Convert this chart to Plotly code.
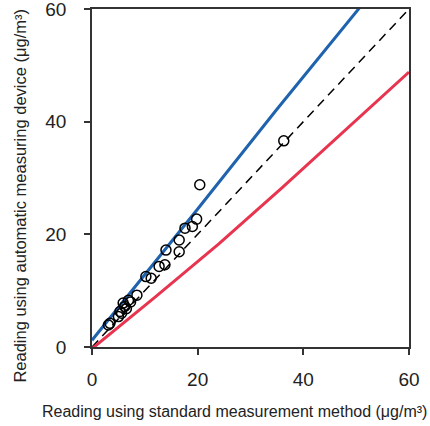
import plotly.graph_objects as go

# measured points (standard method vs automatic device), µg/m³
std_x = [3.1, 3.4, 5.0, 5.3, 5.9, 6.2, 6.9, 5.6, 6.5, 7.3, 8.5, 10.2, 11.2,
         12.7, 13.8, 14.0, 16.5, 16.5, 17.6, 19.0, 19.8, 20.4, 36.3]
auto_y = [3.9, 4.2, 5.4, 6.3, 7.8, 7.2, 8.3, 6.0, 6.8, 8.0, 9.2, 12.5, 12.2,
          14.3, 14.6, 17.2, 19.0, 16.9, 21.1, 21.4, 22.7, 28.8, 36.6]

# upper limit line (blue)
upper_x = [0, 10, 20, 35, 50.5, 60]
upper_y = [1.2, 12.8, 24.5, 42.2, 60, 71]

# lower limit line (red)
lower_x = [0, 12, 24, 36, 60]
lower_y = [-0.3, 8.9, 18.3, 28.3, 48.8]

# 1:1 line
ref_x = [0, 60]
ref_y = [0, 60]

fig = go.Figure()

fig.add_trace(go.Scatter(
    x=ref_x, y=ref_y, mode='lines',
    line=dict(color='black', width=1.5, dash='9px,6px'),
    showlegend=False
))
fig.add_trace(go.Scatter(
    x=upper_x, y=upper_y, mode='lines',
    line=dict(color='#1f62ad', width=3),
    showlegend=False
))
fig.add_trace(go.Scatter(
    x=lower_x, y=lower_y, mode='lines',
    line=dict(color='#e8344f', width=3),
    showlegend=False
))
fig.add_trace(go.Scatter(
    x=std_x, y=auto_y, mode='markers',
    marker=dict(symbol='circle-open', size=10, color='black',
                line=dict(width=1.5)),
    showlegend=False
))

font = 'Liberation Sans, Arial, sans-serif'

# axis titles as annotations so they sit where the original has them
fig.add_annotation(
    text='Reading using standard measurement method (μg/m³)',
    xref='paper', yref='paper', x=0.448, y=-0.192,
    xanchor='center', yanchor='middle', showarrow=False,
    font=dict(size=16)
)
fig.add_annotation(
    text='Reading using automatic measuring device (μg/m³)',
    xref='paper', yref='paper', x=-0.227, y=0.448, textangle=-90,
    xanchor='center', yanchor='middle', showarrow=False,
    font=dict(size=16.5)
)

fig.update_layout(
    width=430, height=426,
    margin=dict(l=92, r=21, t=9, b=79, autoexpand=False),
    plot_bgcolor='white',
    paper_bgcolor='white',
    font=dict(family=font, color='#222'),
    xaxis=dict(
        range=[0, 60], tickvals=[0, 20, 40, 60],
        showgrid=False, zeroline=False,
        showline=True, mirror=True, linecolor='#333', linewidth=1.5,
        ticks='outside', ticklen=6, tickcolor='#333', tickwidth=1.5,
        tickfont=dict(size=19), ticklabelstandoff=8,
        ticklabeloverflow='allow'
    ),
    yaxis=dict(
        range=[0, 60], tickvals=[0, 20, 40, 60],
        showgrid=False, zeroline=False,
        showline=True, mirror=True, linecolor='#333', linewidth=1.5,
        ticks='outside', ticklen=6, tickcolor='#333', tickwidth=1.5,
        tickfont=dict(size=19), ticklabelstandoff=14,
        ticklabeloverflow='allow'
    )
)

# drop the page's default body margin so the chart sits at the window corner
fig.write_html("out.html", config={'displayModeBar': False},
               post_script="document.body.style.margin='0';")
